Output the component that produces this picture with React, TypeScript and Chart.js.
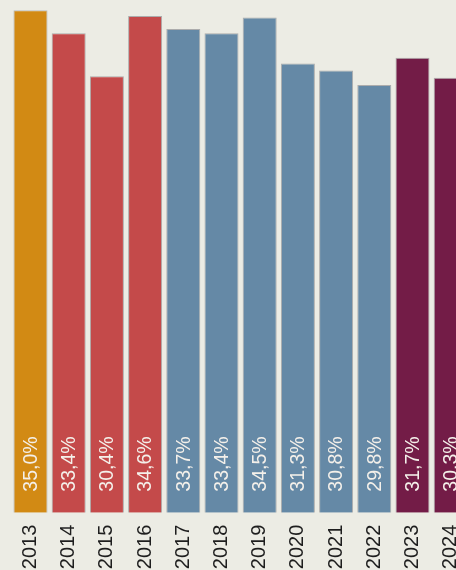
import React, { useEffect, useRef } from "react";
import { Chart, registerables } from "chart.js";

Chart.register(...registerables);

const years = ["2013", "2014", "2015", "2016", "2017", "2018", "2019", "2020", "2021", "2022", "2023", "2024"];
const values = [35.0, 33.4, 30.4, 34.6, 33.7, 33.4, 34.5, 31.3, 30.8, 29.8, 31.7, 30.3];
const groups = ["a", "b", "b", "b", "c", "c", "c", "c", "c", "c", "d", "d"];
const groupColors: Record<string, string> = {
  a: "#d28a14",
  b: "#c44a4a",
  c: "#6589a6",
  d: "#731c47",
};

const BG = "#ecece4";

const valueLabelPlugin = {
  id: "valueLabels",
  afterDatasetsDraw(chart: any) {
    const { ctx } = chart;
    const meta = chart.getDatasetMeta(0);
    ctx.save();
    ctx.font = "19.5px 'Liberation Sans', Arial, sans-serif";
    ctx.fillStyle = "#f4f0ea";
    ctx.textAlign = "left";
    ctx.textBaseline = "middle";
    meta.data.forEach((bar: any, i: number) => {
      const label = values[i].toFixed(1).replace(".", ",") + "%";
      ctx.save();
      ctx.translate(bar.x, bar.base - 21);
      ctx.rotate(-Math.PI / 2);
      ctx.fillText(label, 0, 1);
      ctx.restore();
    });
    ctx.restore();
  },
};

export default function App() {
  const ref = useRef<HTMLCanvasElement | null>(null);
  useEffect(() => {
    document.body.style.margin = "0";
    document.body.style.background = BG;
    if (!ref.current) return;
    const chart = new Chart(ref.current, {
      type: "bar",
      data: {
        labels: years,
        datasets: [
          {
            data: values,
            backgroundColor: groups.map((g) => groupColors[g]),
            borderColor: "rgba(165,165,165,0.9)",
            borderWidth: 1,
            barPercentage: 0.89,
            categoryPercentage: 1,
          },
        ],
      },
      options: {
        animation: false,
        responsive: false,
        layout: { padding: { left: 11.4, right: 10.2, top: 10.3, bottom: 0 } },
        plugins: { legend: { display: false }, tooltip: { enabled: false } },
        scales: {
          x: {
            grid: { display: false },
            border: { display: false },
            afterFit: (scale: any) => {
              scale.height = 57.3;
              scale.paddingLeft = 0;
              scale.paddingRight = 0;
              scale.paddingTop = 0;
              scale.paddingBottom = 0;
            },
            ticks: {
              minRotation: 90,
              maxRotation: 90,
              padding: 4,
              color: "#1e1e1e",
              font: { family: "'Liberation Sans', Arial, sans-serif", size: 20 },
            },
          },
          y: { display: false, min: 0, max: 35 },
        },
      },
      plugins: [valueLabelPlugin],
    });
    return () => chart.destroy();
  }, []);
  return (
    <div style={{ width: 456, height: 570, overflow: "hidden", background: BG }}>
      <canvas ref={ref} width={480} height={570} style={{ display: "block" }} />
    </div>
  );
}
